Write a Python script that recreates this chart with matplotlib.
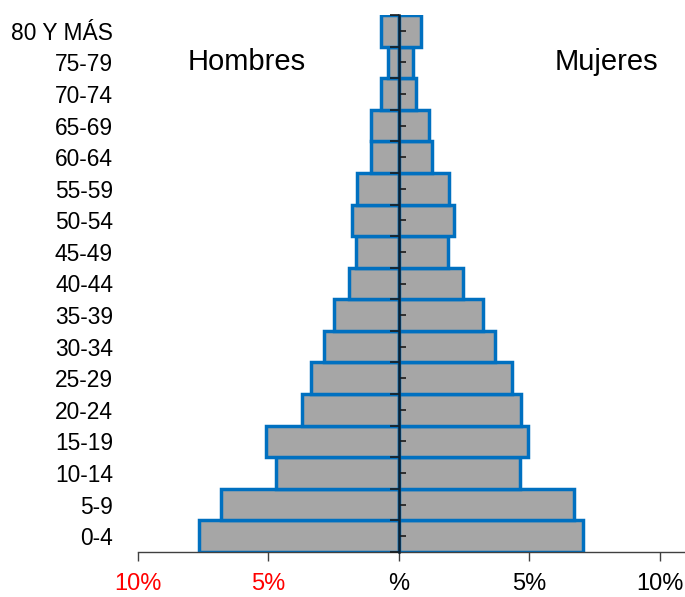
import matplotlib.pyplot as plt

plt.rcParams['font.family'] = ['Liberation Sans', 'DejaVu Sans']

# grupos de edad (de abajo hacia arriba)
grupos = ['0-4', '5-9', '10-14', '15-19', '20-24', '25-29', '30-34', '35-39',
          '40-44', '45-49', '50-54', '55-59', '60-64', '65-69', '70-74',
          '75-79', '80 Y MÁS']
hombres = [7.65, 6.82, 4.72, 5.08, 3.70, 3.37, 2.89, 2.49,
           1.90, 1.66, 1.81, 1.61, 1.06, 1.08, 0.69, 0.41, 0.69]
mujeres = [7.06, 6.69, 4.64, 4.93, 4.69, 4.33, 3.69, 3.22,
           2.45, 1.87, 2.11, 1.93, 1.28, 1.14, 0.64, 0.55, 0.85]

xticks = [-10, -5, 0, 5, 10]
xlabels = ['10%', '5%', '%', '5%', '10%']
xcolors = ['red', 'red', 'black', 'black', 'black']

fig = plt.figure(figsize=(6.85, 5.97), dpi=100)
ax = fig.add_axes([138/685, 45/597, 547/685, 537/597])

y = list(range(len(grupos)))
gris = '#A6A6A6'
azul = '#0070C0'
ax.barh(y, [-h for h in hombres], height=1.0, color=gris, edgecolor=azul, linewidth=2.5)
ax.barh(y, mujeres, height=1.0, color=gris, edgecolor=azul, linewidth=2.5)

ax.set_xlim(-10, 10.96)
ax.set_ylim(-0.5, len(grupos) - 0.5)

ax.set_yticks(y)
ax.set_yticklabels(grupos, fontsize=16.4)
ax.tick_params(axis='y', length=0, pad=18)

ax.set_xticks(xticks)
ax.set_xticklabels(xlabels, fontsize=17)
for lbl, c in zip(ax.get_xticklabels(), xcolors):
    lbl.set_color(c)
ax.tick_params(axis='x', direction='out', length=6.5, width=1, color='#404040', pad=8.5)

for s in ['top', 'right', 'left']:
    ax.spines[s].set_visible(False)
ax.spines['bottom'].set_color('#404040')
ax.spines['bottom'].set_linewidth(1)

# eje central con marcas
ax2 = ax.twinx()
ax2.set_ylim(ax.get_ylim())
for s in ['top', 'left', 'bottom']:
    ax2.spines[s].set_visible(False)
ax2.spines['right'].set_position(('data', 0))
ax2.spines['right'].set_color('#0d2233')
ax2.spines['right'].set_linewidth(1.8)
ax2.set_yticks([i - 0.5 for i in range(len(grupos) + 1)])
ax2.set_yticks(y, minor=True)
ax2.tick_params(axis='y', which='major', direction='in', length=6.5, width=1.2,
                color='#1a1a1a', labelright=False)
ax2.tick_params(axis='y', which='minor', direction='out', length=5, width=1.2,
                color='#1a1a1a', labelright=False)

ax.text(-5.84, 15, 'Hombres', fontsize=21, ha='center', va='center')
ax.text(7.95, 15, 'Mujeres', fontsize=21, ha='center', va='center')

plt.savefig('out.png', dpi=100)
